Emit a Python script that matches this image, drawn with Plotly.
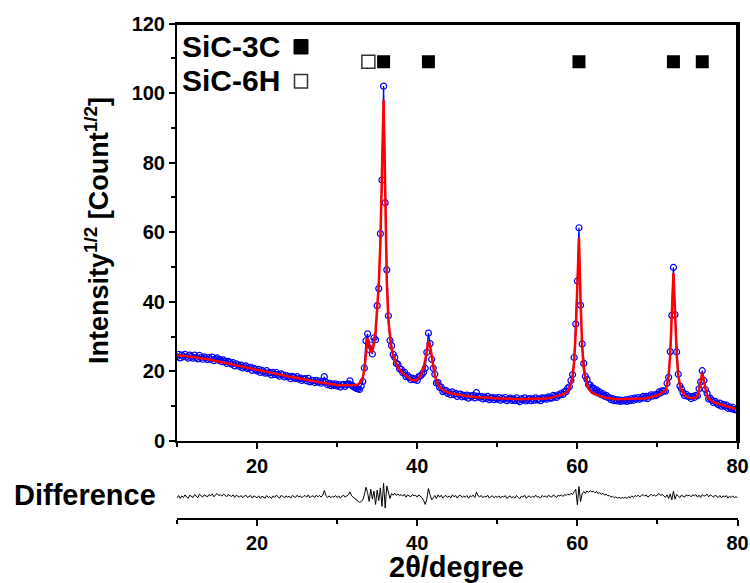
import numpy as np
import plotly.graph_objects as go

# ---------------- data ----------------
two_theta_start = 10.0
two_theta_step = 0.2

# calculated (fitted) profile, sqrt(counts), one value every 0.2 deg from 10.0 to 80.0
fit_values = [
    24.6, 24.6, 24.5, 24.5, 24.5, 24.4, 24.4, 24.3, 24.3, 24.2,   # 10.0-11.8
    24.1, 24.1, 24.0, 24.0, 23.9, 23.8, 23.7, 23.7, 23.6, 23.5,   # 12
    23.4, 23.3, 23.3, 23.2, 23.1, 23.0, 22.9, 22.8, 22.7, 22.6,   # 14
    22.5, 22.4, 22.3, 22.2, 22.1, 22.0, 21.9, 21.8, 21.7, 21.6,   # 16
    21.5, 21.4, 21.3, 21.2, 21.1, 21.0, 20.9, 20.8, 20.7, 20.6,   # 18
    20.5, 20.4, 20.3, 20.2, 20.1, 20.0, 19.9, 19.8, 19.7, 19.6,   # 20
    19.5, 19.4, 19.3, 19.2, 19.1, 19.0, 18.9, 18.8, 18.7, 18.6,   # 22
    18.5, 18.4, 18.3, 18.3, 18.2, 18.1, 18.0, 17.9, 17.8, 17.7,   # 24
    17.6, 17.5, 17.5, 17.4, 17.3, 17.2, 17.1, 17.0, 17.0, 16.9,   # 26
    16.8, 16.7, 16.7, 16.6, 16.5, 16.4, 16.3, 16.3, 16.2, 16.1,   # 28
    16.1, 16.0, 16.0, 16.0, 15.9, 15.9, 15.9, 15.9, 15.9, 15.9,   # 30
    15.9, 16.0, 16.1, 16.3, 16.6, 17.3, 18.2, 20.5, 26.0, 29.6,   # 32
    27.8, 25.4, 25.8, 28.0, 31.5, 37.0, 45.0, 57.0, 78.0, 98.0,   # 34
    72.0, 46.0, 34.5, 29.5, 26.5, 24.5, 23.0, 22.0, 21.2, 20.5,   # 36
    20.0, 19.5, 19.1, 18.7, 18.3, 18.0, 17.7, 17.5, 17.4, 17.4,   # 38
    17.6, 18.0, 18.6, 19.6, 21.0, 23.3, 26.3, 28.6, 27.4, 24.5,   # 40
    21.3, 18.9, 17.3, 16.3, 15.6, 15.1, 14.7, 14.4, 14.2, 14.0,   # 42
    13.8, 13.7, 13.6, 13.5, 13.4, 13.3, 13.2, 13.1, 13.0, 13.0,   # 44
    12.9, 12.9, 12.8, 12.8, 12.7, 12.7, 12.7, 12.6, 12.6, 12.6,   # 46
    12.5, 12.5, 12.5, 12.4, 12.4, 12.4, 12.4, 12.3, 12.3, 12.3,   # 48
    12.3, 12.3, 12.2, 12.2, 12.2, 12.2, 12.2, 12.1, 12.1, 12.1,   # 50
    12.1, 12.1, 12.1, 12.0, 12.0, 12.0, 12.0, 12.0, 12.0, 12.0,   # 52
    12.0, 12.0, 12.0, 12.0, 12.0, 12.0, 12.1, 12.1, 12.1, 12.2,   # 54
    12.2, 12.3, 12.3, 12.4, 12.5, 12.6, 12.7, 12.8, 12.9, 13.0,   # 56
    13.2, 13.4, 13.6, 13.9, 14.4, 15.2, 16.4, 18.5, 22.6, 31.4,   # 58
    48.5, 58.3, 40.5, 27.1, 20.8, 17.7, 16.0, 15.0, 14.3, 13.9,   # 60
    13.6, 13.4, 13.2, 13.0, 12.9, 12.7, 12.6, 12.5, 12.4, 12.3,   # 62
    12.2, 12.1, 12.1, 12.0, 12.0, 12.0, 12.0, 12.0, 12.0, 12.0,   # 64
    12.0, 12.0, 12.0, 12.0, 12.0, 12.0, 12.0, 12.0, 12.1, 12.1,   # 66
    12.1, 12.2, 12.2, 12.3, 12.4, 12.5, 12.6, 12.7, 12.8, 12.9,   # 68
    13.0, 13.2, 13.5, 13.8, 14.2, 14.6, 16.1, 18.9, 24.9, 37.1,   # 70
    48.3, 37.1, 25.0, 19.0, 16.1, 14.6, 13.8, 13.2, 12.9, 12.6,   # 72
    12.4, 12.3, 12.3, 12.3, 12.5, 13.2, 14.6, 17.3, 19.6, 17.3,   # 74
    14.5, 13.0, 12.2, 11.8, 11.5, 11.2, 11.0, 10.9, 10.7, 10.6,   # 76
    10.4, 10.3, 10.2, 10.0, 9.9, 9.7, 9.6, 9.5, 9.4, 9.2,         # 78
    9.1,                                                          # 80
]

# difference (observed - calculated), same grid
difference_values = [
    -0.4, 0.3, -0.6, 0.2, -0.3, 0.5, -0.2, -0.5, 0.4, 0.1,        # 10
    -0.3, 0.6, 0.0, -0.4, 0.7, 0.2, -0.2, 0.5, 0.3, -0.1,         # 12
    0.6, 0.2, 0.8, -0.1, 0.5, 0.9, 0.3, 0.6, 0.1, 0.7,            # 14
    0.4, -0.1, 0.6, 0.3, 0.0, 0.5, -0.3, 0.4, 0.2, -0.2,          # 16
    0.3, -0.4, 0.1, 0.4, -0.3, 0.0, 0.3, -0.5, 0.2, -0.1,         # 18
    -0.4, 0.2, -0.6, 0.1, -0.2, -0.5, 0.3, -0.3, 0.0, -0.6,       # 20
    0.2, -0.3, 0.4, -0.1, -0.5, 0.3, 0.1, -0.4, 0.2, -0.2,        # 22
    0.1, -0.5, 0.3, 0.0, -0.3, 0.4, -0.2, 0.2, -0.4, 0.1,         # 24
    0.3, -0.2, 0.5, -0.4, 0.1, 0.2, -0.3, 0.4, -0.1, 0.3,         # 26
    -0.2, 0.4, 1.8, 0.3, -0.3, 0.2, -0.4, 0.1, -0.2, 0.3,         # 28
    -0.3, 0.2, -0.5, 0.1, 0.4, -0.2, 0.3, 0.5, 1.4, 0.2,          # 30
    -0.2, -0.6, -1.0, -1.3, -1.8, -1.5, -1.1, 0.5, 2.8, 1.2,      # 32
    -1.5, 2.2, -0.8, 1.6, -2.4, 1.9, -1.2, 2.6, -3.0, 4.0,        # 34
    -3.5, 3.2, 1.5, -0.6, 0.9, 0.4, 1.0, 0.3, 0.8, 0.2,           # 36
    0.6, 0.1, 0.7, -0.2, 0.5, 0.3, -0.1, 0.6, 0.2, 0.4,           # 38
    -0.2, 0.5, 0.1, -0.4, -1.2, -2.4, -0.8, 2.4, 0.6, -1.0,       # 40
    -0.4, 0.3, -0.6, 0.5, -0.2, 0.4, -0.5, 0.1, 0.3, -0.3,        # 42
    0.2, -0.4, 0.5, -0.1, 0.3, -0.5, 0.2, 0.4, -0.3, 0.1,         # 44
    -0.2, 0.3, -0.5, 0.2, 0.0, 0.4, -0.3, 1.3, 0.2, -0.1,         # 46
    0.3, -0.4, 0.1, -0.2, 0.4, -0.5, 0.0, 0.2, -0.4, 0.1,         # 48
    -0.3, 0.2, -0.5, 0.1, -0.2, 0.3, -0.6, -0.1, 0.2, -0.4,       # 50
    0.0, -0.5, 0.3, -0.3, -0.7, 0.1, -0.2, 0.4, -0.5, -0.1,       # 52
    0.2, -0.4, 0.1, -0.3, 0.4, -0.2, 0.0, -0.5, 0.3, -0.1,        # 54
    0.2, -0.3, 0.4, 0.0, -0.2, 0.5, 0.1, -0.3, 0.4, 0.2,          # 56
    0.5, 0.0, 0.6, 0.3, 0.8, 0.4, 1.0, 0.6, 1.4, 2.2,             # 58
    -2.5, 3.0, -1.5, 0.8, 1.5, 0.9, 1.7, 1.2, 1.8, 1.4,           # 60
    1.6, 1.1, 1.5, 0.8, 1.2, 0.6, 1.0, 0.4, 0.7, 0.2,             # 62
    0.3, -0.2, 0.1, -0.4, -0.1, -0.5, -0.2, -0.6, -0.3, -0.5,     # 64
    -0.2, -0.6, 0.0, -0.4, 0.2, -0.3, 0.3, 0.0, 0.4, -0.1,        # 66
    0.3, 0.6, 0.1, 0.5, -0.2, 0.4, 0.7, 0.2, 0.5, 0.1,            # 68
    0.4, 0.9, 0.3, 0.6, 0.2, -0.3, 0.5, -0.6, 0.8, -1.0,          # 70
    1.6, -0.8, 0.6, 0.2, -0.3, 0.4, 0.1, -0.2, 0.5, 0.2,          # 72
    0.4, -0.1, 0.5, 0.2, 0.6, -0.2, 0.4, -0.3, 0.6, 0.1,          # 74
    0.3, 0.7, -0.1, 0.5, 0.2, -0.2, 0.4, 0.0, -0.3, 0.3,          # 76
    -0.4, 0.2, -0.2, 0.3, -0.5, 0.1, -0.3, 0.2, -0.4, -0.1,       # 78
    -0.3,                                                         # 80
]

# reflection positions (2theta, deg)
sic3c_positions = [35.8, 41.4, 60.2, 72.0, 75.6]
sic6h_positions = [33.9]
reflection_mark_level = 109

x_ticks = [20, 40, 60, 80]
y_ticks = [0, 20, 40, 60, 80, 100, 120]

# ---------------- derived arrays ----------------
n = min(len(fit_values), len(difference_values))
fit = np.array(fit_values[:n])
diff = np.array(difference_values[:n])
two_theta = two_theta_start + two_theta_step * np.arange(n)
observed = fit + diff

# ---------------- figure ----------------
W, H = 750, 583
FONT = "Liberation Sans, Arial, Helvetica, sans-serif"

def px(xp):
    return xp / W

def py(yp):
    return 1 - yp / H

LEFT, RIGHT, TOP, BOTTOM = 177, 737.5, 23.5, 441
x_dom = [px(LEFT), px(RIGHT)]

fig = go.Figure()

# observed: dense open circles (joined by a thin line so the band looks as dense as the scan)
fig.add_trace(go.Scatter(
    x=two_theta, y=observed, mode="lines+markers",
    line=dict(color="#0000ff", width=1.3),
    marker=dict(symbol="circle-open", size=6, color="#0000ff",
                line=dict(width=1.2, color="#0000ff")),
    xaxis="x", yaxis="y", showlegend=False))

fig.add_trace(go.Scatter(
    x=two_theta, y=fit, mode="lines",
    line=dict(color="#ff0000", width=2.5),
    xaxis="x", yaxis="y", showlegend=False))

fig.add_trace(go.Scatter(
    x=sic3c_positions, y=[reflection_mark_level] * len(sic3c_positions),
    mode="markers", marker=dict(symbol="square", size=13, color="black"),
    xaxis="x", yaxis="y", showlegend=False))

fig.add_trace(go.Scatter(
    x=sic6h_positions, y=[reflection_mark_level] * len(sic6h_positions),
    mode="markers", marker=dict(symbol="square-open", size=13, color="#333333",
                                line=dict(width=1.5, color="#333333")),
    xaxis="x", yaxis="y", showlegend=False))

fig.add_trace(go.Scatter(
    x=two_theta, y=diff, mode="lines",
    line=dict(color="black", width=1),
    xaxis="x2", yaxis="y2", showlegend=False))

tickfont = dict(family=FONT, size=20, color="black", weight="bold")
axis_common = dict(
    showline=True, linewidth=2, linecolor="black",
    ticks="outside", tickwidth=2, ticklen=6, tickcolor="black",
    showgrid=False, zeroline=False, tickfont=tickfont, automargin=False,
)
minor_x = dict(dtick=10, tick0=10, ticklen=4, tickwidth=2,
               ticks="outside", tickcolor="black", showgrid=False)

fig.update_layout(
    template="none",
    width=W, height=H,
    margin=dict(l=0, r=0, t=0, b=0, pad=0, autoexpand=False),
    paper_bgcolor="white", plot_bgcolor="white",
    xaxis=dict(domain=x_dom, range=[10, 80], anchor="y", mirror=True,
               tickvals=x_ticks, minor=minor_x, **axis_common),
    yaxis=dict(domain=[py(BOTTOM), py(TOP)], range=[0, 120], anchor="x", mirror=True,
               tickvals=y_ticks,
               minor=dict(dtick=10, tick0=0, ticklen=4, tickwidth=2,
                          ticks="outside", tickcolor="black", showgrid=False),
               **axis_common),
    # extra plain axes giving the top and right edges of the main frame
    xaxis3=dict(domain=x_dom, range=[10, 80], anchor="y", overlaying="x", side="top",
                showline=True, linewidth=2.5, linecolor="black", ticks="",
                showticklabels=False, showgrid=False, zeroline=False),
    yaxis3=dict(domain=[py(BOTTOM), py(TOP)], range=[0, 120], anchor="x",
                overlaying="y", side="right",
                showline=True, linewidth=2.5, linecolor="black", ticks="",
                showticklabels=False, showgrid=False, zeroline=False),
    xaxis2=dict(domain=x_dom, range=[10, 80], anchor="y2",
                tickvals=x_ticks, minor=minor_x, **axis_common),
    yaxis2=dict(domain=[py(518), py(475)], range=[-6.5, 6.5], anchor="x2",
                visible=False),
    showlegend=False,
)

big_font = dict(family=FONT, size=29, color="black", weight="bold")
leg_font = dict(family=FONT, size=30, color="black", weight="bold")
ytitle_font = dict(family=FONT, size=27, color="black", weight="bold")

annotations = [
    dict(text="Intensity<sup>1/2</sup> [Count<sup>1/2</sup>]", textangle=-90,
         x=px(97), y=py(231), xref="paper", yref="paper",
         xanchor="center", yanchor="middle", showarrow=False, font=ytitle_font),
    dict(text="2θ/degree", x=px(457), y=py(567), xref="paper", yref="paper",
         xanchor="center", yanchor="middle", showarrow=False, font=big_font),
    dict(text="Difference", x=px(85), y=py(495), xref="paper", yref="paper",
         xanchor="center", yanchor="middle", showarrow=False, font=big_font),
    dict(text="SiC-3C", x=px(180), y=py(46), xref="paper", yref="paper",
         xanchor="left", yanchor="middle", showarrow=False, font=leg_font),
    dict(text="SiC-6H", x=px(180), y=py(81), xref="paper", yref="paper",
         xanchor="left", yanchor="middle", showarrow=False, font=leg_font),
]
fig.update_layout(annotations=annotations)

shapes = [
    # top and right sides of the main panel frame, drawn as thin filled bars
    dict(type="rect", xref="paper", yref="paper", layer="above",
         x0=px(LEFT - 1), x1=px(RIGHT + 1.5), y0=py(TOP + 1.5), y1=py(TOP - 1.5),
         fillcolor="black", line=dict(width=0)),
    dict(type="rect", xref="paper", yref="paper", layer="above",
         x0=px(RIGHT - 1.5), x1=px(RIGHT + 1.5), y0=py(BOTTOM + 1), y1=py(TOP - 1.5),
         fillcolor="black", line=dict(width=0)),
    # legend symbols
    dict(type="rect", xref="paper", yref="paper",
         x0=px(294), x1=px(308), y0=py(54), y1=py(39.5),
         fillcolor="black", line=dict(color="black", width=1)),
    dict(type="rect", xref="paper", yref="paper",
         x0=px(294.5), x1=px(307.5), y0=py(88), y1=py(74.5),
         fillcolor="white", line=dict(color="#333333", width=1.5)),
]
fig.update_layout(shapes=shapes)

fig.write_html("out.html",
               config={"displayModeBar": False},
               post_script="document.body.style.margin='0px';document.body.style.padding='0px';")
